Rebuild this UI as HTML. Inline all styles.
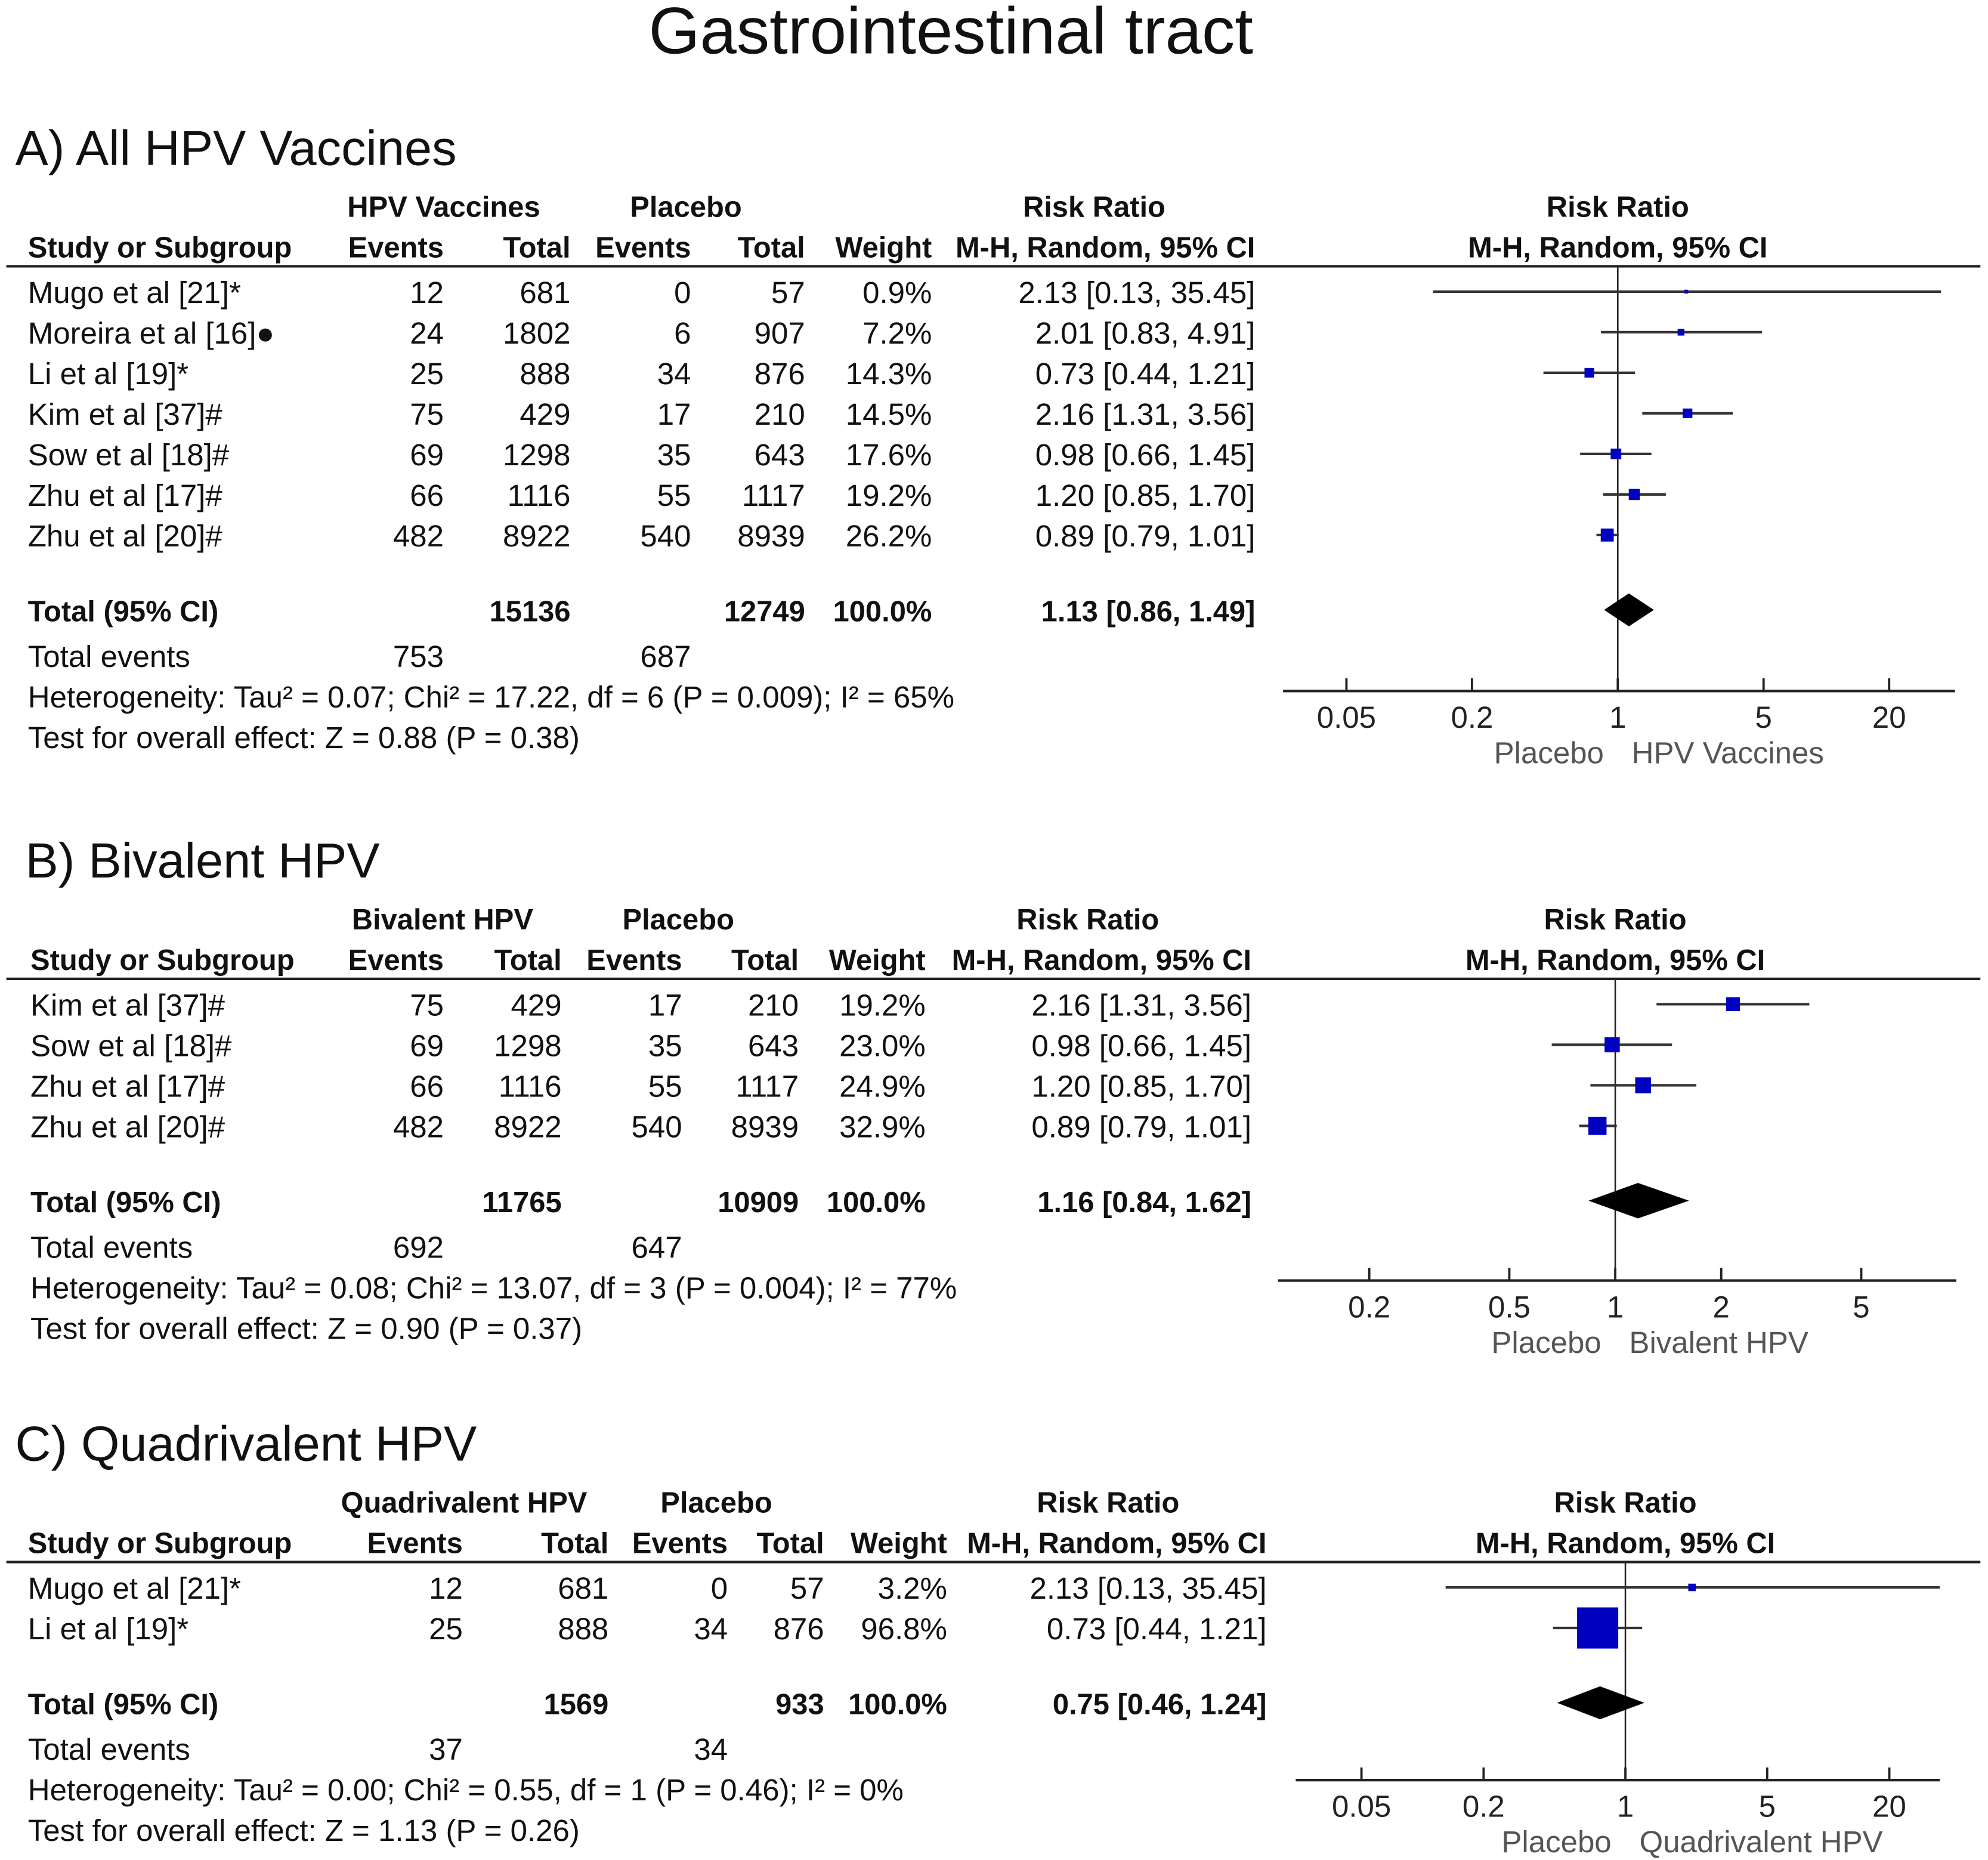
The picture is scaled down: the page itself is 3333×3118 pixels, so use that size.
<!DOCTYPE html>
<html><head><meta charset="utf-8"><style>
html,body{margin:0;padding:0;background:#fff;}
svg{display:block;font-family:"Liberation Sans",Arial,sans-serif;}
</style></head><body>
<svg id="chart" width="3333" height="3118" viewBox="0 0 1568 1467" preserveAspectRatio="none" xmlns="http://www.w3.org/2000/svg">
<rect width="1568" height="1467" fill="#fff"/>
</svg>
<script>
// ---- Panel A data ----
const studiesA = ["Mugo et al [21]*","Moreira et al [16]\u25CF","Li et al [19]*","Kim et al [37]#","Sow et al [18]#","Zhu et al [17]#","Zhu et al [20]#"];
const evA = [12,24,25,75,69,66,482];
const totA = [681,1802,888,429,1298,1116,8922];
const evPA = [0,6,34,17,35,55,540];
const totPA = [57,907,876,210,643,1117,8939];
const wA = [0.9,7.2,14.3,14.5,17.6,19.2,26.2];
const rrA = [2.13,2.01,0.73,2.16,0.98,1.20,0.89];
const loA = [0.13,0.83,0.44,1.31,0.66,0.85,0.79];
const hiA = [35.45,4.91,1.21,3.56,1.45,1.70,1.01];
const totalA = [15136,12749,1.13,0.86,1.49,753,687];
const ticksA = [0.05,0.2,1,5,20];
// ---- Panel B data ----
const studiesB = ["Kim et al [37]#","Sow et al [18]#","Zhu et al [17]#","Zhu et al [20]#"];
const evB = [75,69,66,482];
const totB = [429,1298,1116,8922];
const evPB = [17,35,55,540];
const totPB = [210,643,1117,8939];
const wB = [19.2,23.0,24.9,32.9];
const rrB = [2.16,0.98,1.20,0.89];
const loB = [1.31,0.66,0.85,0.79];
const hiB = [3.56,1.45,1.70,1.01];
const totalB = [11765,10909,1.16,0.84,1.62,692,647];
const ticksB = [0.2,0.5,1,2,5];
// ---- Panel C data ----
const studiesC = ["Mugo et al [21]*","Li et al [19]*"];
const evC = [12,25];
const totC = [681,888];
const evPC = [0,34];
const totPC = [57,876];
const wC = [3.2,96.8];
const rrC = [2.13,0.73];
const loC = [0.13,0.44];
const hiC = [35.45,1.21];
const totalC = [1569,933,0.75,0.46,1.24,37,34];
const ticksC = [0.05,0.2,1,5,20];

const NS = "http://www.w3.org/2000/svg";
const svg = document.getElementById('chart');
const REG = 24, BOLD = 23;
function txt(x,y,s,name,anchor,size,bold,fill){
  const el=document.createElementNS(NS,'text');
  el.setAttribute('x',x);el.setAttribute('y',y);
  el.setAttribute('font-size',size||(bold?BOLD:REG));
  el.setAttribute('text-anchor',anchor||'start');
  if(bold)el.setAttribute('font-weight','bold');
  el.setAttribute('fill',fill||'#111');
  el.textContent=s;
  
  
  svg.appendChild(el);return el;
}
function line(x1,y1,x2,y2,w,name,col){
  const el=document.createElementNS(NS,'line');
  el.setAttribute('x1',x1);el.setAttribute('y1',y1);el.setAttribute('x2',x2);el.setAttribute('y2',y2);
  el.setAttribute('stroke',col||'#222');el.setAttribute('stroke-width',w);
  
  
  svg.appendChild(el);return el;
}
function shape(tag,attrs,name){
  const el=document.createElementNS(NS,tag);
  for(const k in attrs)el.setAttribute(k,attrs[k]);
  
  
  svg.appendChild(el);return el;
}
const f2=v=>v.toFixed(2);
const ci=(r,l,h)=>f2(r)+" ["+f2(l)+", "+f2(h)+"]";

txt(750,42,"Gastrointestinal tract","figure-title","middle",52);

function panel(p){
  txt(p.hx,p.hy,p.heading,"panel-heading","start",39);
  const r1=p.hy+41, r2=r1+32;
  txt(p.c.grp,r1,p.grp,"group-header","middle",0,true);
  txt(p.c.plc,r1,"Placebo","placebo-header","middle",0,true);
  txt(p.c.rrh,r1,"Risk Ratio","risk-ratio-header","middle",0,true);
  txt(p.one,r1,"Risk Ratio","plot-risk-ratio-header","middle",0,true);
  txt(p.c.study,r2,"Study or Subgroup","study-header","start",0,true);
  txt(p.c.ev,r2,"Events","events-header","end",0,true);
  txt(p.c.tot,r2,"Total","total-header","end",0,true);
  txt(p.c.evp,r2,"Events","placebo-events-header","end",0,true);
  txt(p.c.totp,r2,"Total","placebo-total-header","end",0,true);
  txt(p.c.w,r2,"Weight","weight-header","end",0,true);
  txt(p.c.ci,r2,"M-H, Random, 95% CI","ci-header","end",0,true);
  txt(p.one,r2,"M-H, Random, 95% CI","plot-ci-header","middle",0,true);
  const ly=r2+7;
  line(5,ly,1562,ly,2,"header-rule");
  const X=v=>p.one+Math.log10(v)*p.dec;
  const n=p.st.length;
  const axisY=p.axisY;
  line(p.one,ly,p.one,axisY,1.2,"null-line");
  for(let i=0;i<n;i++){
    const by=ly+29+32*i, cy=by-9;
    txt(p.c.study,by,p.st[i],"study-name","start");
    txt(p.c.ev,by,String(p.ev[i]),"vaccine-events","end");
    txt(p.c.tot,by,String(p.tot[i]),"vaccine-total","end");
    txt(p.c.evp,by,String(p.evp[i]),"placebo-events","end");
    txt(p.c.totp,by,String(p.totp[i]),"placebo-total","end");
    txt(p.c.w,by,p.w[i].toFixed(1)+"%","weight","end");
    txt(p.c.ci,by,ci(p.rr[i],p.lo[i],p.hi[i]),"risk-ratio-ci","end");
    line(X(p.lo[i]),cy,X(p.hi[i]),cy,2,"ci-whisker","#333");
    const s=Math.max(3,p.k*Math.sqrt(p.w[i]));
    shape('rect',{x:X(p.rr[i])-s/2,y:cy-s/2,width:s,height:s,fill:'#0000c0'},"study-marker");
  }
  const t=p.tt;
  const ty=ly+29+32*(n-1)+59;
  txt(p.c.study,ty,"Total (95% CI)","total-label","start",0,true);
  txt(p.c.tot,ty,String(t[0]),"vaccine-total-sum","end",0,true);
  txt(p.c.totp,ty,String(t[1]),"placebo-total-sum","end",0,true);
  txt(p.c.w,ty,"100.0%","total-weight","end",0,true);
  txt(p.c.ci,ty,ci(t[2],t[3],t[4]),"total-ci","end",0,true);
  const dy=ty-9, dh=p.dh;
  shape('polygon',{points:`${X(t[3])},${dy} ${X(t[2])},${dy-dh} ${X(t[4])},${dy} ${X(t[2])},${dy+dh}`,fill:'#000'},"pooled-diamond");
  txt(p.c.study,ty+36,"Total events","total-events-label","start");
  txt(p.c.ev,ty+36,String(t[5]),"vaccine-total-events","end");
  txt(p.c.evp,ty+36,String(t[6]),"placebo-total-events","end");
  txt(p.c.study,ty+68,p.het,"heterogeneity","start");
  txt(p.c.study,ty+100,p.test,"overall-effect","start");
  line(p.ax0,axisY,p.ax1,axisY,2,"x-axis");
  p.ticks.forEach(v=>{
    line(X(v),axisY-10,X(v),axisY,1.8,"x-tick");
    txt(X(v),axisY+29,String(v),"x-tick-label","middle",0,false,'#222');
  });
  txt(p.one-11,axisY+57,"Placebo","favours-placebo","end",0,false,'#555');
  txt(p.one+11,axisY+57,p.fav,"favours-vaccine","start",0,false,'#555');
}

panel({heading:"A) All HPV Vaccines",hx:12,hy:130,grp:"HPV Vaccines",
  c:{grp:350,plc:541,rrh:863,study:22,ev:350,tot:450,evp:545,totp:635,w:735,ci:990},
  one:1276,dec:164.5,axisY:545,ax0:1012,ax1:1542,k:2,dh:13,
  st:studiesA,ev:evA,tot:totA,evp:evPA,totp:totPA,w:wA,rr:rrA,lo:loA,hi:hiA,tt:totalA,ticks:ticksA,
  het:"Heterogeneity: Tau\u00B2 = 0.07; Chi\u00B2 = 17.22, df = 6 (P = 0.009); I\u00B2 = 65%",
  test:"Test for overall effect: Z = 0.88 (P = 0.38)",fav:"HPV Vaccines"});
panel({heading:"B) Bivalent HPV",hx:20,hy:692,grp:"Bivalent HPV",
  c:{grp:349,plc:535,rrh:858,study:24,ev:350,tot:443,evp:538,totp:630,w:730,ci:987},
  one:1274,dec:277.6,axisY:1010,ax0:1008,ax1:1543,k:2.5,dh:14,
  st:studiesB,ev:evB,tot:totB,evp:evPB,totp:totPB,w:wB,rr:rrB,lo:loB,hi:hiB,tt:totalB,ticks:ticksB,
  het:"Heterogeneity: Tau\u00B2 = 0.08; Chi\u00B2 = 13.07, df = 3 (P = 0.004); I\u00B2 = 77%",
  test:"Test for overall effect: Z = 0.90 (P = 0.37)",fav:"Bivalent HPV"});
panel({heading:"C) Quadrivalent HPV",hx:12,hy:1152,grp:"Quadrivalent HPV",
  c:{grp:366,plc:565,rrh:874,study:22,ev:365,tot:480,evp:574,totp:650,w:747,ci:999},
  one:1282,dec:160,axisY:1404,ax0:1022,ax1:1530,k:3.3,dh:13,
  st:studiesC,ev:evC,tot:totC,evp:evPC,totp:totPC,w:wC,rr:rrC,lo:loC,hi:hiC,tt:totalC,ticks:ticksC,
  het:"Heterogeneity: Tau\u00B2 = 0.00; Chi\u00B2 = 0.55, df = 1 (P = 0.46); I\u00B2 = 0%",
  test:"Test for overall effect: Z = 1.13 (P = 0.26)",fav:"Quadrivalent HPV"});
</script>
</body></html>
